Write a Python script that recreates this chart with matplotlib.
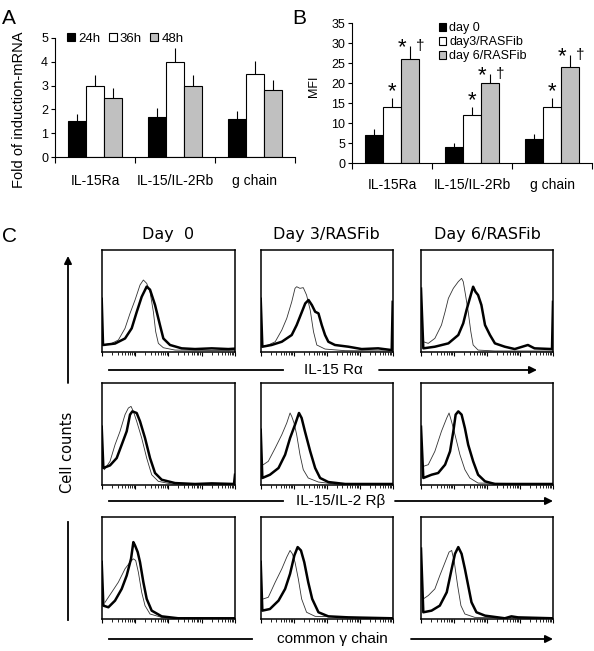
import matplotlib.pyplot as plt
import numpy as np
from matplotlib.ticker import NullFormatter, LogLocator

plt.rcParams['font.family'] = ['Liberation Sans', 'DejaVu Sans']

genes = ["IL-15Ra", "IL-15/IL-2Rb", "g chain"]

# panel A: fold of induction (mRNA)
mrna_labels = ["24h", "36h", "48h"]
mrna_24h = [1.5, 1.7, 1.6]
mrna_36h = [3.0, 4.0, 3.5]
mrna_48h = [2.5, 3.0, 2.8]
mrna_24h_err = [0.3, 0.35, 0.35]
mrna_36h_err = [0.45, 0.6, 0.55]
mrna_48h_err = [0.4, 0.45, 0.45]

# panel B: MFI
mfi_labels = ["day 0", "day3/RASFib", "day 6/RASFib"]
mfi_day0 = [7, 4, 6]
mfi_day3 = [14, 12, 14]
mfi_day6 = [26, 20, 24]
mfi_day0_err = [1.5, 1.0, 1.3]
mfi_day3_err = [2.2, 2.0, 2.2]
mfi_day6_err = [3.2, 2.3, 3.0]

# panel C: histograms, x in log10 decades (0-4), y as fraction of box height
col_titles = ["Day  0", "Day 3/RASFib", "Day 6/RASFib"]
row_labels = ["IL-15 R\u03b1", "IL-15/IL-2 R\u03b2", "common \u03b3 chain"]

ra_day0_ctrl = ([0.02, 0.3, 0.5, 0.7, 0.85, 1.0, 1.15, 1.25, 1.35, 1.45, 1.55, 1.62, 1.7, 1.85, 2.2, 4.0],
                [0.066, 0.082, 0.115, 0.23, 0.377, 0.508, 0.656, 0.705, 0.672, 0.59, 0.393, 0.197, 0.082, 0.039, 0.016, 0.01])
ra_day0_stain = ([0, 0.04, 0.4, 0.7, 0.9, 1.05, 1.2, 1.35, 1.45, 1.6, 1.75, 1.85, 2.05, 2.4, 2.8, 3.3, 3.8, 4.0],
                 [0.52, 0.066, 0.08, 0.13, 0.23, 0.39, 0.54, 0.64, 0.61, 0.46, 0.26, 0.13, 0.066, 0.033, 0.026, 0.033, 0.026, 0.03])
ra_day3_ctrl = ([0.03, 0.23, 0.44, 0.64, 0.79, 0.94, 1.04, 1.09, 1.19, 1.29, 1.39, 1.5, 1.6, 1.7, 1.95, 2.56, 4.0],
                [0.049, 0.066, 0.098, 0.213, 0.328, 0.49, 0.623, 0.639, 0.623, 0.63, 0.557, 0.41, 0.197, 0.066, 0.026, 0.01, 0.007])
ra_day3_stain = ([0, 0.05, 0.33, 0.64, 0.94, 1.09, 1.25, 1.35, 1.45, 1.55, 1.65, 1.75, 1.85, 1.95, 2.05, 2.25, 2.66, 3.06, 3.56, 3.97, 4.0],
                 [0.52, 0.049, 0.066, 0.098, 0.164, 0.262, 0.393, 0.475, 0.508, 0.459, 0.393, 0.377, 0.262, 0.164, 0.098, 0.066, 0.049, 0.026, 0.033, 0.016, 0.49])
ra_day6_ctrl = ([0.07, 0.22, 0.42, 0.62, 0.73, 0.83, 0.98, 1.13, 1.23, 1.28, 1.35, 1.43, 1.51, 1.58, 1.73, 2.24, 4.0],
                [0.098, 0.082, 0.131, 0.262, 0.393, 0.525, 0.623, 0.689, 0.721, 0.689, 0.557, 0.393, 0.197, 0.066, 0.016, 0.007, 0.007])
ra_day6_stain = ([0, 0.07, 0.42, 0.83, 1.13, 1.28, 1.38, 1.48, 1.58, 1.65, 1.73, 1.83, 1.94, 2.09, 2.24, 2.54, 2.84, 3.24, 3.44, 3.97, 4.0],
                 [0.62, 0.033, 0.049, 0.082, 0.164, 0.279, 0.41, 0.525, 0.639, 0.59, 0.557, 0.459, 0.262, 0.164, 0.082, 0.049, 0.026, 0.066, 0.033, 0.026, 0.49])

rb_day0_ctrl = ([0.08, 0.25, 0.4, 0.55, 0.7, 0.8, 0.88, 0.95, 1.05, 1.2, 1.35, 1.5, 1.7, 2.1, 4.0],
                [0.148, 0.23, 0.393, 0.525, 0.689, 0.754, 0.77, 0.721, 0.623, 0.459, 0.262, 0.098, 0.033, 0.007, 0.007])
rb_day0_stain = ([0, 0.05, 0.25, 0.45, 0.6, 0.75, 0.85, 0.92, 1.05, 1.15, 1.3, 1.45, 1.6, 1.8, 2.2, 2.8, 3.3, 3.97, 4.0],
                 [0.57, 0.164, 0.19, 0.262, 0.393, 0.525, 0.689, 0.721, 0.705, 0.623, 0.459, 0.262, 0.115, 0.049, 0.016, 0.007, 0.013, 0.007, 0.098])
rb_day3_ctrl = ([0.08, 0.23, 0.44, 0.64, 0.79, 0.89, 0.94, 1.01, 1.09, 1.19, 1.29, 1.44, 1.75, 2.25, 4.0],
                [0.197, 0.23, 0.361, 0.492, 0.607, 0.705, 0.672, 0.607, 0.492, 0.295, 0.148, 0.066, 0.026, 0.007, 0.007])
rb_day3_stain = ([0, 0.05, 0.28, 0.54, 0.74, 0.89, 1.04, 1.16, 1.24, 1.34, 1.5, 1.65, 1.8, 2.05, 2.56, 4.0],
                 [0.54, 0.066, 0.098, 0.164, 0.295, 0.459, 0.59, 0.705, 0.656, 0.525, 0.328, 0.164, 0.066, 0.026, 0.007, 0.007])
rb_day6_ctrl = ([0.07, 0.22, 0.42, 0.62, 0.78, 0.85, 0.91, 0.98, 1.08, 1.18, 1.33, 1.48, 1.73, 4.0],
                [0.18, 0.197, 0.328, 0.525, 0.656, 0.705, 0.639, 0.557, 0.426, 0.295, 0.148, 0.066, 0.016, 0.007])
rb_day6_stain = ([0, 0.07, 0.32, 0.52, 0.73, 0.88, 0.98, 1.05, 1.13, 1.23, 1.33, 1.43, 1.58, 1.73, 1.94, 2.24, 4.0],
                 [0.57, 0.066, 0.098, 0.115, 0.197, 0.328, 0.525, 0.689, 0.721, 0.689, 0.557, 0.393, 0.23, 0.098, 0.033, 0.007, 0.007])

gc_day0_ctrl = ([0.1, 0.3, 0.5, 0.7, 0.85, 0.95, 1.02, 1.1, 1.2, 1.3, 1.45, 1.8, 4.0],
                [0.164, 0.262, 0.361, 0.492, 0.557, 0.59, 0.574, 0.459, 0.262, 0.131, 0.049, 0.016, 0.007])
gc_day0_stain = ([0, 0.05, 0.2, 0.4, 0.6, 0.75, 0.88, 0.95, 1.0, 1.08, 1.15, 1.25, 1.35, 1.5, 1.8, 2.3, 4.0],
                 [0.56, 0.131, 0.115, 0.18, 0.295, 0.426, 0.59, 0.754, 0.721, 0.656, 0.557, 0.361, 0.197, 0.082, 0.026, 0.007, 0.007])
gc_day3_ctrl = ([0.08, 0.23, 0.44, 0.64, 0.79, 0.89, 0.96, 1.04, 1.14, 1.24, 1.39, 1.65, 4.0],
                [0.197, 0.213, 0.361, 0.492, 0.607, 0.672, 0.639, 0.557, 0.393, 0.197, 0.066, 0.026, 0.007])
gc_day3_stain = ([0, 0.05, 0.28, 0.54, 0.74, 0.89, 1.02, 1.12, 1.22, 1.32, 1.44, 1.56, 1.75, 2.05, 2.66, 4.0],
                 [0.56, 0.082, 0.098, 0.18, 0.295, 0.443, 0.623, 0.705, 0.672, 0.557, 0.361, 0.197, 0.066, 0.026, 0.016, 0.007])
gc_day6_ctrl = ([0.07, 0.22, 0.42, 0.57, 0.73, 0.85, 0.93, 1.01, 1.11, 1.21, 1.33, 1.63, 4.0],
                [0.197, 0.23, 0.295, 0.426, 0.557, 0.656, 0.672, 0.557, 0.328, 0.131, 0.049, 0.016, 0.007])
gc_day6_stain = ([0, 0.07, 0.32, 0.57, 0.78, 0.93, 1.03, 1.13, 1.23, 1.33, 1.43, 1.53, 1.68, 1.94, 2.54, 2.74, 2.94, 4.0],
                 [0.69, 0.066, 0.082, 0.131, 0.262, 0.492, 0.639, 0.705, 0.639, 0.492, 0.328, 0.164, 0.066, 0.033, 0.007, 0.026, 0.016, 0.007])

hist_rows = [
    [(ra_day0_ctrl, ra_day0_stain), (ra_day3_ctrl, ra_day3_stain), (ra_day6_ctrl, ra_day6_stain)],
    [(rb_day0_ctrl, rb_day0_stain), (rb_day3_ctrl, rb_day3_stain), (rb_day6_ctrl, rb_day6_stain)],
    [(gc_day0_ctrl, gc_day0_stain), (gc_day3_ctrl, gc_day3_stain), (gc_day6_ctrl, gc_day6_stain)],
]

W, H = 594, 651
fig = plt.figure(figsize=(W / 100, H / 100), dpi=100)


def px_axes(x0, y0, x1, y1):
    # axes from pixel box (top-left origin)
    return fig.add_axes([x0 / W, 1 - y1 / H, (x1 - x0) / W, (y1 - y0) / H])


colors = ['black', 'white', '#c0c0c0']
bw = 0.225
offs = [-bw, 0, bw]
xc = np.arange(3)


def bar_panel(ax, series, errs, labels, ymax, ystep, lab_pad):
    for s, e, c, o, lab in zip(series, errs, colors, offs, labels):
        ax.bar(xc + o, s, width=bw, color=c, edgecolor='black', lw=0.8, label=lab, zorder=2)
        ax.errorbar(xc + o, s, yerr=[np.zeros(3), e], fmt='none', ecolor='black',
                    elinewidth=0.8, capsize=0, zorder=1)
    ax.set_xlim(-0.5, 2.5)
    ax.set_ylim(0, ymax)
    ax.set_yticks(np.arange(0, ymax + 0.1, ystep))
    ax.set_xticks([-0.5, 0.5, 1.5, 2.5])
    ax.set_xticklabels([])
    ax.set_xticks(xc, minor=True)
    ax.set_xticklabels(genes, minor=True, fontsize=10)
    ax.tick_params(axis='x', which='major', direction='out', length=4, width=0.8)
    ax.tick_params(axis='x', which='minor', length=0, pad=lab_pad)
    ax.tick_params(axis='y', direction='out', length=3, width=0.8, labelsize=9, pad=2)
    for sp in ['top', 'right']:
        ax.spines[sp].set_visible(False)
    for sp in ['left', 'bottom']:
        ax.spines[sp].set_linewidth(0.8)


# Panel A
axA = px_axes(55, 38, 295, 157)
bar_panel(axA, [mrna_24h, mrna_36h, mrna_48h], [mrna_24h_err, mrna_36h_err, mrna_48h_err],
          mrna_labels, 5, 1, 12)
axA.set_ylabel("Fold of induction-mRNA", fontsize=10.5)
axA.yaxis.set_label_coords(-0.12, 0.4)
axA.legend(loc='upper left', bbox_to_anchor=(0.03, 1.09), ncol=3, frameon=False, fontsize=9.5,
           handlelength=0.6, handleheight=0.6, handletextpad=0.25, columnspacing=0.6,
           borderaxespad=0)

# Panel B
axB = px_axes(352, 23, 592, 163)
bar_panel(axB, [mfi_day0, mfi_day3, mfi_day6], [mfi_day0_err, mfi_day3_err, mfi_day6_err],
          mfi_labels, 35, 5, 11)
axB.set_ylabel("MFI", fontsize=9)
axB.yaxis.set_label_coords(-0.135, 0.55)
axB.legend(loc='upper left', bbox_to_anchor=(0.34, 1.04), ncol=1, frameon=False, fontsize=9,
           handlelength=0.6, handleheight=0.6, handletextpad=0.25, labelspacing=0.15,
           borderaxespad=0)
for i in range(3):
    top3 = mfi_day3[i] + mfi_day3_err[i]
    axB.text(xc[i], top3 + 1.7, "*", ha='center', va='center', fontsize=16)
    top6 = mfi_day6[i] + mfi_day6_err[i]
    axB.text(xc[i] + bw - 0.1, top6 - 0.4, "*", ha='center', va='center', fontsize=16)
    axB.text(xc[i] + bw + 0.13, top6, "\u2020", ha='center', va='center', fontsize=11)

# overlay for panel letters, arrows and labels (pixel coordinates)
ov = fig.add_axes([0, 0, 1, 1], zorder=-1)
ov.set_xlim(0, W)
ov.set_ylim(H, 0)
ov.axis('off')
ov.text(2, 18, "A", fontsize=15, va='center', ha='left')
ov.text(292, 18, "B", fontsize=15, va='center', ha='left')
ov.text(2, 236, "C", fontsize=15, va='center', ha='left')

# Panel C histograms
col_x = [(101.7, 235), (260.7, 392.7), (421, 553)]
row_y = [(250, 351.7), (383, 484.7), (517, 619)]
for r, row in enumerate(hist_rows):
    for c, (ctrl, stain) in enumerate(row):
        ax = px_axes(col_x[c][0], row_y[r][0], col_x[c][1], row_y[r][1])
        ax.plot(10 ** np.array(ctrl[0]), ctrl[1], color='#333333', lw=0.6)
        ax.plot(10 ** np.array(stain[0]), stain[1], color='black', lw=1.8)
        ax.set_xscale('log')
        ax.set_xlim(1, 1e4)
        ax.set_ylim(0, 1)
        ax.set_yticks([])
        ax.xaxis.set_major_locator(LogLocator(base=10, numticks=10))
        ax.xaxis.set_minor_locator(LogLocator(base=10, subs=np.arange(2, 10), numticks=10))
        ax.xaxis.set_major_formatter(NullFormatter())
        ax.xaxis.set_minor_formatter(NullFormatter())
        ax.tick_params(axis='x', which='major', direction='out', length=3, width=0.8)
        ax.tick_params(axis='x', which='minor', direction='out', length=2, width=0.6)
        for sp in ax.spines.values():
            sp.set_linewidth(1.1)

for c, t in enumerate(col_titles):
    ov.text((col_x[c][0] + col_x[c][1]) / 2, 235, t, ha='center', va='center', fontsize=11.5,
            family='DejaVu Sans')

arrow_kw = dict(arrowstyle='-|>', lw=1.3, color='black', mutation_scale=11, shrinkA=0, shrinkB=0)
row_lines = [(370, 283, 333, 379, 537), (501, 283, 341, 395, 553), (639, 252, 332, 411, 553)]
for (y, l_end, tx, a0, a1), lab in zip(row_lines, row_labels):
    ov.plot([109, l_end], [y, y], color='black', lw=1.3)
    ov.text(tx, y, lab, ha='center', va='center', fontsize=11)
    ov.annotate('', xy=(a1, y), xytext=(a0, y), arrowprops=arrow_kw)

ov.annotate('', xy=(68, 256), xytext=(68, 383), arrowprops=arrow_kw)
ov.text(68, 452, "Cell counts", rotation=90, ha='center', va='center', fontsize=10.5,
        family='DejaVu Sans')
ov.plot([68, 68], [522, 620], color='black', lw=1.3)

fig.savefig("out.png", dpi=100)
